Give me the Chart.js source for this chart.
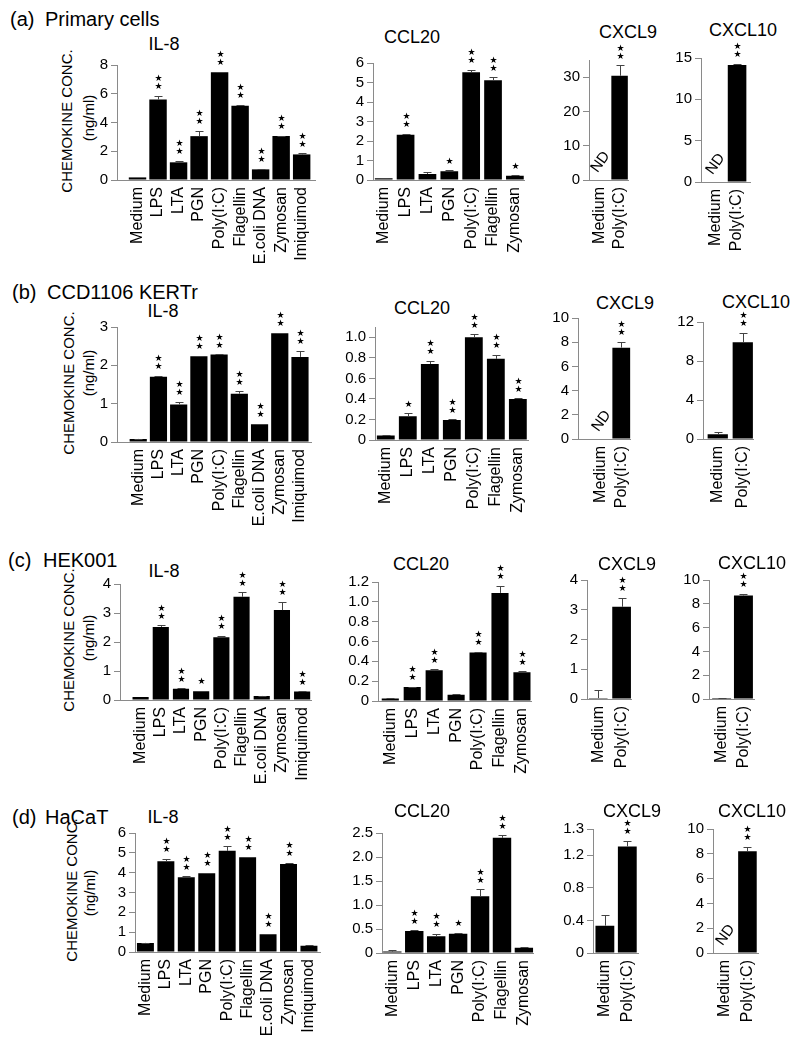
<!DOCTYPE html>
<html>
<head>
<meta charset="utf-8">
<script src="https://cdn.jsdelivr.net/npm/chart.js@4.4.0/dist/chart.umd.min.js"></script>
<style>
  body { margin: 0; background: #fff; width: 800px; height: 1047px; position: relative; overflow: hidden;
         font-family: "Liberation Sans", Arial, sans-serif; }
  .lbl { position: absolute; white-space: nowrap; color: #000; line-height: 1; }
  canvas { position: absolute; }
</style>
</head>
<body>
<script>
// --- 1. Data ---
const IL8_CATS = ["Medium", "LPS", "LTA", "PGN", "Poly(I:C)", "Flagellin", "E.coli DNA", "Zymosan", "Imiquimod"];
const CCL20_CATS = ["Medium", "LPS", "LTA", "PGN", "Poly(I:C)", "Flagellin", "Zymosan"];
const CXCL_CATS = ["Medium", "Poly(I:C)"];

const PANEL_TAGS = ["(a)", "(b)", "(c)", "(d)"];
const PANEL_NAMES = ["Primary cells", "CCD1106 KERTr", "HEK001", "HaCaT"];
const CHART_TITLES = ["IL-8", "CCL20", "CXCL9", "CXCL10"];
const YAXIS_TITLE = ["CHEMOKINE CONC.", "(ng/ml)"];

// null = not detected (ND)
// (a) primary cells
const primaryIL8 = [0.18, 5.6, 1.23, 3.05, 7.5, 5.17, 0.74, 3.06, 1.78];
const primaryIL8Err = [0, 0.26, 0.12, 0.35, 0.03, 0.05, 0.03, 0.03, 0.08];
const primaryIL8Sig = [0, 2, 2, 2, 2, 2, 2, 2, 2];
const primaryCCL20 = [0.09, 2.32, 0.31, 0.45, 5.52, 5.11, 0.22];
const primaryCCL20Err = [0.02, 0.06, 0.1, 0.05, 0.12, 0.16, 0.02];
const primaryCCL20Sig = [0, 2, 0, 1, 2, 2, 1];
const primaryCXCL9 = [null, 30.4];
const primaryCXCL9Err = [0, 3.0];
const primaryCXCL9Sig = [0, 2];
const primaryCXCL10 = [null, 14.15];
const primaryCXCL10Err = [0, 0.12];
const primaryCXCL10Sig = [0, 2];

// (b) CCD1106 KERTr
const kertrIL8 = [0.08, 1.70, 0.98, 2.24, 2.28, 1.26, 0.46, 2.84, 2.22];
const kertrIL8Err = [0.01, 0.02, 0.06, 0.01, 0.01, 0.06, 0.01, 0.01, 0.15];
const kertrIL8Sig = [0, 2, 2, 2, 2, 2, 2, 2, 2];
const kertrCCL20 = [0.045, 0.23, 0.74, 0.195, 1.0, 0.79, 0.40];
const kertrCCL20Err = [0.005, 0.03, 0.03, 0.005, 0.03, 0.04, 0.005];
const kertrCCL20Sig = [0, 1, 2, 2, 2, 2, 2];
const kertrCXCL9 = [null, 7.55];
const kertrCXCL9Err = [0, 0.5];
const kertrCXCL9Sig = [0, 2];
const kertrCXCL10 = [0.5, 9.93];
const kertrCXCL10Err = [0.18, 0.95];
const kertrCXCL10Sig = [0, 2];

// (c) HEK001
const hekIL8 = [0.1, 2.52, 0.39, 0.3, 2.16, 3.56, 0.14, 3.1, 0.29];
const hekIL8Err = [0, 0.05, 0.01, 0.01, 0.06, 0.15, 0.01, 0.29, 0.01];
const hekIL8Sig = [0, 2, 2, 1, 2, 2, 0, 2, 2];
const hekCCL20 = [0.024, 0.14, 0.31, 0.064, 0.49, 1.09, 0.29];
const hekCCL20Err = [0.01, 0.005, 0.01, 0.01, 0.005, 0.07, 0.01];
const hekCCL20Sig = [0, 2, 2, 0, 2, 2, 2];
const hekCXCL9 = [0.03, 3.1];
const hekCXCL9Err = [0.27, 0.3];
const hekCXCL9Sig = [0, 2];
const hekCXCL10 = [0.08, 8.7];
const hekCXCL10Err = [0.04, 0.15];
const hekCXCL10Sig = [0, 2];

// (d) HaCaT
const hacatIL8 = [0.46, 4.58, 3.77, 3.97, 5.10, 4.78, 0.9, 4.44, 0.32];
const hacatIL8Err = [0.01, 0.12, 0.05, 0.01, 0.22, 0.03, 0.01, 0.04, 0.01];
const hacatIL8Sig = [0, 2, 2, 2, 2, 2, 2, 2, 0];
const hacatCCL20 = [0.03, 0.46, 0.35, 0.40, 1.18, 2.40, 0.11];
const hacatCCL20Err = [0.025, 0.01, 0.05, 0.02, 0.15, 0.05, 0.005];
const hacatCCL20Sig = [0, 2, 2, 1, 2, 2, 0];
const hacatCXCL9 = [0.335, 1.306];
const hacatCXCL9Err = [0.125, 0.07];
const hacatCXCL9Sig = [0, 2];
const hacatCXCL10 = [null, 8.2];
const hacatCXCL10Err = [0, 0.35];
const hacatCXCL10Sig = [0, 2];

// y tick values and their labels
const T_0_8 = [0, 2, 4, 6, 8];
const T_0_6 = [0, 1, 2, 3, 4, 5, 6];
const T_0_30 = [0, 10, 20, 30];
const T_0_15 = [0, 5, 10, 15];
const T_0_3 = [0, 1, 2, 3];
const T_0_1 = [0, 0.2, 0.4, 0.6, 0.8, 1.0];
const T_0_10 = [0, 2, 4, 6, 8, 10];
const T_0_12 = [0, 4, 8, 12];
const T_0_4 = [0, 1, 2, 3, 4];
const T_0_1_2 = [0, 0.2, 0.4, 0.6, 0.8, 1.0, 1.2];
const T_0_2_5 = [0, 0.5, 1.0, 1.5, 2.0, 2.5];
const T_HACAT_CXCL9 = [0, 0.4, 0.8, 1.2, 1.52];
const L_HACAT_CXCL9 = ["0", "0.4", "0.8", "1.2", "1.3"];

// --- 2. Layout (page pixels) ---
const YW = 42, TOP = 48, RP = 14, XH = 98;
const FONT = '"Liberation Sans", Arial, sans-serif';
const AXIS_GREY = "#8a8a8a";

const ROWS = [
  { y: 19, tagX: 10, nameX: 45, yl: [66, 121, 88, 118], charts: [
    { t: [164, 44], cats: IL8_CATS, v: primaryIL8, e: primaryIL8Err, s: primaryIL8Sig, ticks: T_0_8, ymax: 8, box: [117, 315, 65, 180], xr: [-1.0, 8.65], bp: 0.85 },
    { t: [412, 37], cats: CCL20_CATS, v: primaryCCL20, e: primaryCCL20Err, s: primaryCCL20Sig, ticks: T_0_6, ymax: 6, box: [373, 528, 63, 180], xr: [-0.49, 6.45], bp: 0.81 },
    { t: [628, 32], cats: CXCL_CATS, v: primaryCXCL9, e: primaryCXCL9Err, s: primaryCXCL9Sig, ticks: T_0_30, ymax: 35, box: [589, 635, 60, 180], xr: [-0.54, 1.46], bp: 0.83 },
    { t: [743, 30], cats: CXCL_CATS, v: primaryCXCL10, e: primaryCXCL10Err, s: primaryCXCL10Sig, ticks: T_0_15, ymax: 15, box: [701, 753, 58, 182], xr: [-0.65, 1.6], bp: 0.85 }
  ]},
  { y: 292, tagX: 12, nameX: 47, yl: [68, 383, 88, 373], charts: [
    { t: [163, 311], cats: IL8_CATS, v: kertrIL8, e: kertrIL8Err, s: kertrIL8Sig, ticks: T_0_3, ymax: 3, box: [117, 313, 327, 442], xr: [-1.05, 8.56], bp: 0.85 },
    { t: [422, 308], cats: CCL20_CATS, v: kertrCCL20, e: kertrCCL20Err, s: kertrCCL20Sig, ticks: T_0_1, ymax: 1.1, box: [375, 531, 327, 440], xr: [-0.49, 6.47], bp: 0.81, dec: true },
    { t: [625, 303], cats: CXCL_CATS, v: kertrCXCL9, e: kertrCXCL9Err, s: kertrCXCL9Sig, ticks: T_0_10, ymax: 10, box: [578, 636, 318, 439], xr: [-1.09, 1.43], bp: 0.87 },
    { t: [756, 302], cats: CXCL_CATS, v: kertrCXCL10, e: kertrCXCL10Err, s: kertrCXCL10Sig, ticks: T_0_12, ymax: 12, box: [703, 758, 322, 439], xr: [-0.59, 1.44], bp: 0.81 }
  ]},
  { y: 560, tagX: 8, nameX: 43, yl: [68, 640, 88, 638], charts: [
    { t: [164, 571], cats: IL8_CATS, v: hekIL8, e: hekIL8Err, s: hekIL8Sig, ticks: T_0_4, ymax: 4, box: [120, 315, 584, 700], xr: [-1.02, 8.46], bp: 0.8 },
    { t: [421, 564], cats: CCL20_CATS, v: hekCCL20, e: hekCCL20Err, s: hekCCL20Sig, ticks: T_0_1_2, ymax: 1.2, box: [378, 535, 582, 701], xr: [-0.56, 6.43], bp: 0.78, dec: true },
    { t: [627, 564], cats: CXCL_CATS, v: hekCXCL9, e: hekCXCL9Err, s: hekCXCL9Sig, ticks: T_0_4, ymax: 4, box: [587, 637, 580, 699], xr: [-0.48, 1.44], bp: 0.8 },
    { t: [752, 563], cats: CXCL_CATS, v: hekCXCL10, e: hekCXCL10Err, s: hekCXCL10Sig, ticks: T_0_10, ymax: 10, box: [709, 759, 580, 699], xr: [-0.58, 1.5], bp: 0.87 }
  ]},
  { y: 817, tagX: 12, nameX: 45, yl: [71, 890, 89, 893], charts: [
    { t: [163, 817], cats: IL8_CATS, v: hacatIL8, e: hacatIL8Err, s: hacatIL8Sig, ticks: T_0_6, ymax: 6, box: [135, 322, 833, 952], xr: [-0.51, 8.55], bp: 0.83 },
    { t: [422, 811], cats: CCL20_CATS, v: hacatCCL20, e: hacatCCL20Err, s: hacatCCL20Sig, ticks: T_0_2_5, ymax: 2.5, box: [382, 537, 833, 953], xr: [-0.47, 6.43], bp: 0.84, dec: true },
    { t: [632, 811], cats: CXCL_CATS, v: hacatCXCL9, e: hacatCXCL9Err, s: hacatCXCL9Sig, ticks: T_HACAT_CXCL9, labels: L_HACAT_CXCL9, ymax: 1.52, box: [593, 643, 829, 953], xr: [-0.53, 1.51], bp: 0.84 },
    { t: [752, 811], cats: CXCL_CATS, v: hacatCXCL10, e: hacatCXCL10Err, s: hacatCXCL10Sig, ticks: T_0_10, ymax: 10, box: [713, 763, 829, 953], xr: [-0.52, 1.48], bp: 0.82 }
  ]}
];

// --- 3. Helpers ---
function addText(txt, x, y, size, transform) {
  const d = document.createElement("div");
  d.className = "lbl";
  d.textContent = txt;
  d.style.left = x + "px";
  d.style.top = y + "px";
  d.style.fontSize = size + "px";
  d.style.transform = transform;
  document.body.appendChild(d);
}

function tickLabel(c, v, i) {
  if (c.labels) return c.labels[i];
  if (c.dec) return v === 0 ? "0" : v.toFixed(1);
  return String(v);
}

// error bars, significance stars and ND marks
function markPlugin(c) {
  return {
    id: "marks",
    afterDatasetsDraw(chart) {
      const { ctx } = chart;
      const x = chart.scales.x, y = chart.scales.y;
      ctx.save();
      c.v.forEach((v, i) => {
        const px = Math.round(x.getPixelForValue(i)) + 0.5;
        if (v === null) {
          ctx.save();
          ctx.translate(px, y.getPixelForValue(0) - 18);
          ctx.rotate(-Math.PI * 0.3);
          ctx.font = "15px " + FONT;
          ctx.fillStyle = "#000";
          ctx.textAlign = "center";
          ctx.textBaseline = "middle";
          ctx.fillText("ND", 0, 0);
          ctx.restore();
          return;
        }
        const err = c.e[i] || 0;
        const yTop = y.getPixelForValue(v + err);
        if (err > 0) {
          const yb = y.getPixelForValue(v);
          const yc = Math.round(yTop) + 0.5;
          ctx.strokeStyle = "#444";
          ctx.lineWidth = 1;
          ctx.beginPath();
          ctx.moveTo(px, yb);
          ctx.lineTo(px, yc);
          ctx.moveTo(px - 4, yc);
          ctx.lineTo(px + 4, yc);
          ctx.stroke();
        }
        ctx.fillStyle = "#000";
        ctx.font = '9px "DejaVu Sans"';
        ctx.textAlign = "center";
        ctx.textBaseline = "middle";
        for (let k = 0; k < c.s[i]; k++) {
          ctx.fillText("\u2605", px, yTop - 9 - k * 8);
        }
      });
      ctx.restore();
    }
  };
}

function makeChart(c) {
  const [left, right, top, bottom] = c.box;
  const w = YW + (right - left) + RP;
  const h = TOP + (bottom - top) + XH;
  const cv = document.createElement("canvas");
  cv.width = w; cv.height = h;
  cv.style.width = w + "px"; cv.style.height = h + "px";
  cv.style.left = (left - YW) + "px";
  cv.style.top = (top - TOP) + "px";
  document.body.appendChild(cv);

  new Chart(cv, {
    type: "bar",
    data: {
      datasets: [{
        data: c.v.map((v, i) => ({ x: i, y: v })),
        backgroundColor: "#000",
        borderWidth: 0,
        barPercentage: c.bp,
        categoryPercentage: 1
      }]
    },
    options: {
      responsive: false,
      animation: false,
      events: [],
      layout: { padding: { left: 0, right: RP, top: TOP, bottom: 0 } },
      plugins: { legend: { display: false }, tooltip: { enabled: false } },
      scales: {
        x: {
          type: "linear",
          bounds: "data",
          offset: false,
          min: c.xr[0], max: c.xr[1],
          afterBuildTicks: ax => { ax.ticks = c.cats.map((_, i) => ({ value: i })); },
          afterFit: ax => { ax.height = XH; },
          grid: { display: false, drawTicks: false, offset: false },
          border: { color: AXIS_GREY, width: 1 },
          ticks: {
            autoSkip: false, minRotation: 90, maxRotation: 90, padding: 7,
            color: "#000", font: { family: FONT, size: 16 },
            callback: (v, i) => c.cats[i]
          }
        },
        y: {
          bounds: "data",
          min: 0, max: c.ymax,
          afterBuildTicks: ax => { ax.ticks = c.ticks.map(v => ({ value: v })); },
          afterFit: ax => { ax.width = YW; },
          grid: { drawOnChartArea: false, drawTicks: true, tickLength: 6, color: AXIS_GREY },
          border: { color: AXIS_GREY, width: 1 },
          ticks: {
            autoSkip: false, padding: 3, color: "#000", font: { family: FONT, size: 15 },
            callback: (v, i) => tickLabel(c, c.ticks[i], i)
          }
        }
      }
    },
    plugins: [markPlugin(c)]
  });
}

// --- 4. Build the figure ---
ROWS.forEach((row, r) => {
  addText(PANEL_TAGS[r], row.tagX, row.y, 20, "translateY(-50%)");
  addText(PANEL_NAMES[r], row.nameX, row.y, 20, "translateY(-50%)");
  addText(YAXIS_TITLE[0], row.yl[0], row.yl[1], 15, "translate(-50%,-50%) rotate(-90deg)");
  addText(YAXIS_TITLE[1], row.yl[2], row.yl[3], 15, "translate(-50%,-50%) rotate(-90deg)");
  row.charts.forEach((c, k) => {
    addText(CHART_TITLES[k], c.t[0], c.t[1], 18, "translate(-50%,-50%)");
    makeChart(c);
  });
});
</script>
</body>
</html>
